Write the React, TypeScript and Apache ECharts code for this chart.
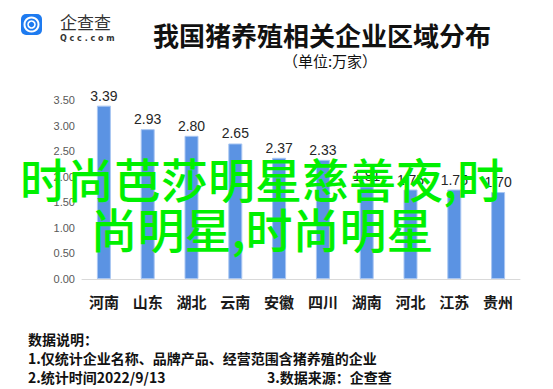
import React, { useEffect, useRef } from "react";
import * as echarts from "echarts";

const categories = ["河南", "山东", "湖北", "云南", "安徽", "四川", "湖南", "河北", "江苏", "贵州"];
const values = [3.39, 2.93, 2.8, 2.65, 2.37, 2.33, 1.81, 1.75, 1.75, 1.7];
const yTicks = { min: 0, max: 3.5, interval: 0.5 };
const titleText = "我国猪养殖相关企业区域分布";
const subtitleText = "（单位:万家）";
const notes = [
  "数据说明：",
  "1.仅统计企业名称、品牌产品、经营范围含猪养殖的企业",
  "2.统计时间2022/9/13",
];
const sourceNote = "3.数据来源：企查查";
const overlayLines = ["时尚芭莎明星慈善夜,时", "尚明星,时尚明星"];

const CJK = '"Noto Sans CJK SC", "Noto Sans", sans-serif';

export default function App() {
  const ref = useRef<HTMLDivElement>(null);
  useEffect(() => {
    if (!ref.current) return;
    document.body.style.margin = "0";
    const chart = echarts.init(ref.current, null, { renderer: "svg" });
    chart.setOption({
      animation: false,
      backgroundColor: "#ffffff",
      grid: { left: 82, right: 33, top: 100, bottom: 110, containLabel: false },
      xAxis: {
        type: "category",
        data: categories,
        axisLine: { show: true, lineStyle: { color: "#D9D9D9", width: 1 } },
        axisTick: { show: false },
        axisLabel: {
          color: "#1a1a1a",
          fontSize: 15,
          fontWeight: "bold",
          fontFamily: CJK,
          margin: 15,
        },
      },
      yAxis: {
        type: "value",
        min: yTicks.min,
        max: yTicks.max,
        interval: yTicks.interval,
        axisLine: { show: false },
        axisTick: { show: false },
        splitLine: { show: false },
        axisLabel: {
          color: "#595959",
          fontSize: 11,
          fontFamily: "Liberation Sans, Arial, sans-serif",
          margin: 7,
          formatter: (v: number) => v.toFixed(2),
        },
      },
      series: [
        {
          type: "bar",
          data: values,
          barWidth: 14,
          itemStyle: { color: "#5B93E3", borderColor: "#A9C6F2", borderWidth: 1 },
          label: {
            show: true,
            position: "top",
            distance: 3,
            color: "#262626",
            fontSize: 14,
            fontFamily: "Liberation Sans, Arial, sans-serif",
            formatter: (p: any) => Number(p.value).toFixed(2),
          },
        },
      ],
      graphic: [
        {
          type: "rect",
          shape: { x: 21, y: 14, width: 21, height: 21, r: 5 },
          style: { fill: "#1E7BF0" },
        },
        {
          type: "circle",
          shape: { cx: 31.5, cy: 24.5, r: 7 },
          style: { fill: "none", stroke: "#ffffff", lineWidth: 2 },
        },
        {
          type: "circle",
          shape: { cx: 31.5, cy: 24.5, r: 3.5 },
          style: { fill: "none", stroke: "#ffffff", lineWidth: 1.6 },
        },
        {
          type: "text",
          x: 60,
          y: 21,
          style: {
            text: "企查查",
            fill: "#333333",
            font: `17px ${CJK}`,
            textVerticalAlign: "middle",
          },
        },
        {
          type: "text",
          x: 60,
          y: 38,
          style: {
            text: "Q c c . c o m",
            fill: "#333333",
            font: `bold 8px "DejaVu Sans", sans-serif`,
            textVerticalAlign: "middle",
          },
        },
        {
          type: "text",
          x: 322,
          y: 34,
          style: {
            text: titleText,
            fill: "#111111",
            font: `bold 26px ${CJK}`,
            textAlign: "center",
            textVerticalAlign: "middle",
          },
        },
        {
          type: "text",
          x: 330,
          y: 60,
          style: {
            text: subtitleText,
            fill: "#111111",
            font: `15px ${CJK}`,
            textAlign: "center",
            textVerticalAlign: "middle",
          },
        },
        {
          type: "text",
          x: 28,
          y: 339,
          style: {
            text: notes[0],
            fill: "#111111",
            font: `bold 14px ${CJK}`,
            textVerticalAlign: "middle",
          },
        },
        {
          type: "text",
          x: 28,
          y: 358,
          style: {
            text: notes[1],
            fill: "#111111",
            font: `bold 14px ${CJK}`,
            textVerticalAlign: "middle",
          },
        },
        {
          type: "text",
          x: 28,
          y: 377,
          style: {
            text: notes[2],
            fill: "#111111",
            font: `bold 14px ${CJK}`,
            textVerticalAlign: "middle",
          },
        },
        {
          type: "text",
          x: 267,
          y: 377,
          style: {
            text: sourceNote,
            fill: "#111111",
            font: `bold 14px ${CJK}`,
            textVerticalAlign: "middle",
          },
        },
        {
          type: "text",
          x: 262,
          y: 177,
          z: 100,
          style: {
            text: overlayLines[0],
            fill: "#00F000",
            font: `500 47px ${CJK}`,
            textAlign: "center",
            textVerticalAlign: "middle",
          },
        },
        {
          type: "text",
          x: 262,
          y: 227,
          z: 100,
          style: {
            text: overlayLines[1],
            fill: "#00F000",
            font: `500 47px ${CJK}`,
            textAlign: "center",
            textVerticalAlign: "middle",
          },
        },
      ],
    });
    return () => chart.dispose();
  }, []);
  return <div ref={ref} style={{ width: 553, height: 389 }} />;
}
